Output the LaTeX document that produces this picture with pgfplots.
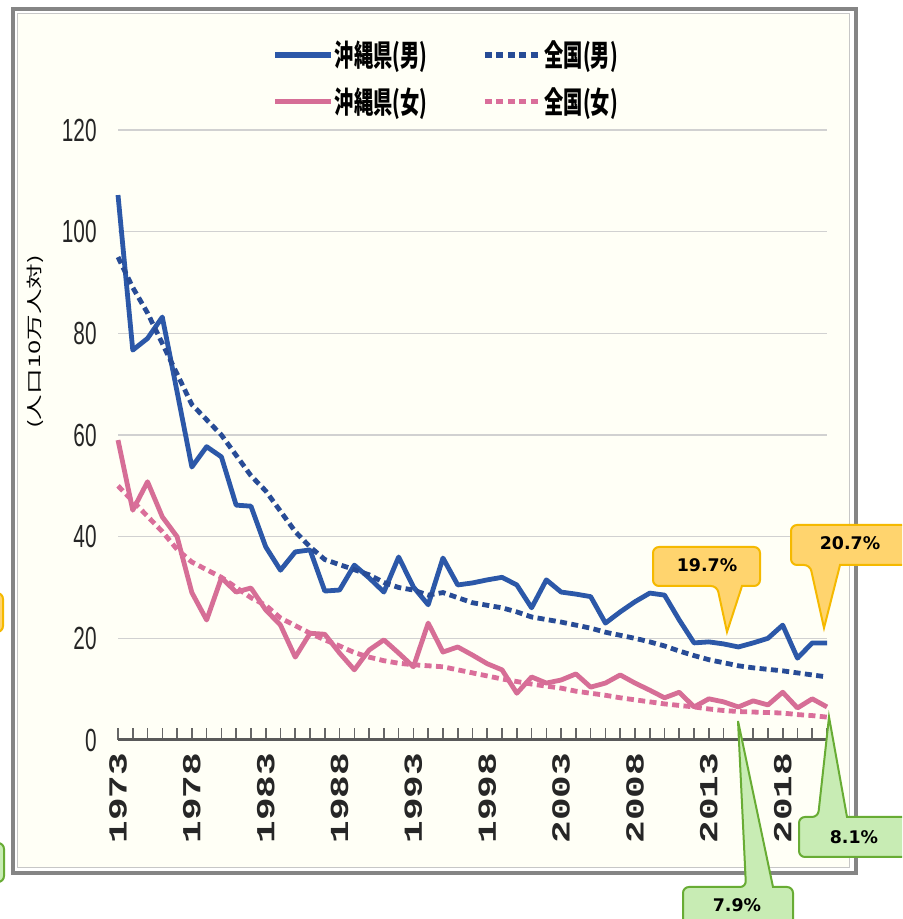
\documentclass[border=0pt]{standalone}
\usepackage{pgfplots}
\usepackage{pgfplotstable}
\pgfplotsset{compat=1.18}
\usepackage{fontspec}
\setmainfont{Liberation Sans}
\newfontfamily\ticksans[FakeStretch=0.65]{Liberation Sans}
\newfontfamily\tickmono[FakeStretch=1.45]{Liberation Mono}
\newfontfamily\cjklegend[FakeStretch=0.64]{Noto Sans CJK JP}
\newfontfamily\cjklabel[FakeStretch=1.6]{Noto Sans CJK JP}
\newfontfamily\callfont{DejaVu Sans}

\definecolor{okblue}{RGB}{44,88,168}
\definecolor{natblue}{RGB}{40,76,150}
\definecolor{okpink}{RGB}{214,110,150}
\definecolor{natpink}{RGB}{218,110,154}
\definecolor{cream}{RGB}{255,255,246}
\definecolor{callY}{RGB}{255,212,110}
\definecolor{callYb}{RGB}{245,185,0}
\definecolor{callG}{RGB}{200,236,180}
\definecolor{callGb}{RGB}{104,172,52}

\pgfplotstableread{
year okm natm okf natf
1973 107.2 95 59 50
1974 76.7 89 45.2 47
1975 79 84 50.8 44
1976 83.2 78 43.9 41
1977 68.5 72 40 37.5
1978 53.7 66 29 35
1979 57.7 63 23.6 33.5
1980 55.7 60 31.9 32
1981 46.2 56 29.1 30
1982 46 52 29.9 28
1983 38 49 25.6 26.5
1984 33.4 45 22.6 24
1985 37 41 16.3 22.5
1986 37.4 38 21 21
1987 29.3 35.5 20.8 19.7
1988 29.5 34.5 17.1 18.5
1989 34.4 33.5 13.8 17.2
1990 31.9 32.5 17.7 16.3
1991 29.1 31 19.7 15.6
1992 36 30 17.1 15.1
1993 30.1 29.5 14.4 14.8
1994 26.6 28.5 23 14.6
1995 35.8 29 17.3 14.4
1996 30.5 28 18.3 13.8
1997 30.9 27 16.7 13.2
1998 31.5 26.5 15 12.6
1999 32 26 13.8 12
2000 30.5 25.2 9.2 11.5
2001 26 24.2 12.4 11
2002 31.5 23.7 11.2 10.6
2003 29.1 23.2 11.8 10.2
2004 28.7 22.6 13 9.6
2005 28.2 22 10.4 9.2
2006 23 21.2 11.2 8.8
2007 25.2 20.6 12.8 8.3
2008 27.2 20 11.2 7.9
2009 28.9 19.3 9.8 7.5
2010 28.5 18.5 8.3 7.1
2011 23.6 17.5 9.4 6.8
2012 19.1 16.6 6.5 6.5
2013 19.3 15.8 8.1 6.1
2014 18.9 15.2 7.5 5.8
2015 18.3 14.6 6.5 5.6
2016 19.1 14.2 7.7 5.5
2017 20 13.9 6.9 5.4
2018 22.6 13.6 9.4 5.3
2019 16.1 13.2 6.3 5
2020 19.1 12.8 8.1 4.8
2021 19.1 12.4 6.5 4.5
}\datatable

\begin{document}
\begin{tikzpicture}[x=1pt,y=1pt]
\clip (0,0) rectangle (451,459.5);
\fill[white] (0,0) rectangle (451,459.5);
\fill[cream] (8.75,25.5) rectangle (424.5,452.5);
\draw[draw=black!22, line width=0.5pt] (8.75,25.5) rectangle (424.5,452.5);
\draw[draw=black!48, line width=2pt] (6.25,22.75) rectangle (428,454.75);

\begin{axis}[
  at={(59pt,89.5pt)}, anchor=south west,
  scale only axis, width=354.5pt, height=305pt,
  xmin=1973, xmax=2021, ymin=0, ymax=120,
  clip=false,
  axis lines*=left,
  y axis line style={draw=none},
  x axis line style={draw=black!65, line width=1.5pt},
  xtick={1973,1978,...,2018},
  xticklabels={1973,1978,1983,1988,1993,1998,2003,2008,2013,2018},
  minor xtick={1973,...,2021},
  tick align=inside,
  major tick length=6pt, minor tick length=6pt,
  xtick style={draw=black!60, line width=0.8pt},
  every minor tick/.append style={draw=black!60, line width=0.8pt},
  xticklabel style={rotate=90, anchor=east, font=\fontsize{13}{14}\tickmono\bfseries, text=black!85},
  xticklabel shift=3pt,
  ytick={0,20,...,120},
  ytick style={draw=none},
  yticklabel style={font=\fontsize{16}{17}\ticksans, text=black!85, inner sep=0pt},
  yticklabel shift=10.5pt,
  /pgf/number format/assume math mode=true,
  ymajorgrids,
  grid style={draw=black!18, line width=0.7pt},
  ylabel={(人口10万人対)},
  every axis y label/.style={at={(axis description cs:-0.117,0.6525)}, rotate=90, anchor=center, font=\fontsize{8}{9}\cjklabel},
  legend columns=2,
  legend style={draw=none, fill=none, at={(0.2172,1.149)}, anchor=north west, inner sep=0pt,
    row sep=8pt, font={\fontsize{15}{16}\cjklegend\bfseries},
    /tikz/every even column/.append style={column sep=27pt},
    nodes={inner sep=0.5pt}},
  legend image code/.code={\draw[#1, line width=2.8pt] (0pt,0pt) -- (28pt,0pt);},
]
\addplot[okblue, line width=2.4pt, line join=round] table[x=year, y=okm] {\datatable};
\addlegendentry{沖縄県(男)}
\addplot[natblue, line width=2.4pt, dash pattern=on 3.5pt off 2.2pt] table[x=year, y=natm] {\datatable};
\addlegendentry{全国(男)}
\addplot[okpink, line width=2.4pt, line join=round] table[x=year, y=okf] {\datatable};
\addlegendentry{沖縄県(女)}
\addplot[natpink, line width=2.4pt, dash pattern=on 3.5pt off 2.2pt] table[x=year, y=natf] {\datatable};
\addlegendentry{全国(女)}
\end{axis}

% callouts
\filldraw[fill=callY, draw=callYb, line width=1pt] (353,186) [rounded corners=3pt] -- (326.5,186) -- (326.5,166.5) -- (358.5,166.5) [sharp corners] -- (363.5,143.5) -- (371,166.5) [rounded corners=3pt] -- (380,166.5) -- (380,186) -- cycle;
\node[font=\fontsize{8.7}{10}\callfont\bfseries] at (353.5,177) {19.7\%};

\filldraw[fill=callY, draw=callYb, line width=1pt] (395.5,187) [rounded corners=3pt] -- (395.5,177) -- (405,177) [sharp corners] -- (412,145.5) -- (420,177) [rounded corners=3pt] -- (460,177) -- (460,197) -- (395.5,197) -- cycle;
\node[font=\fontsize{8.7}{10}\callfont\bfseries] at (425,188) {20.7\%};

\filldraw[fill=callG, draw=callGb, line width=1pt] (341.5,-10) [rounded corners=3pt] -- (341.5,16) -- (373,16) [sharp corners] -- (369,99) -- (386.5,16) [rounded corners=3pt] -- (396.5,16) -- (396.5,-10) -- cycle;
\node[font=\fontsize{8.7}{10}\callfont\bfseries] at (368.5,7) {7.9\%};

\filldraw[fill=callG, draw=callGb, line width=1pt] (399.5,41) [rounded corners=3pt] -- (399.5,51) -- (409,51) [sharp corners] -- (414.5,101) -- (423.5,51) [rounded corners=3pt] -- (460,51) -- (460,31) -- (399.5,31) -- cycle;
\node[font=\fontsize{8.7}{10}\callfont\bfseries] at (427,41) {8.1\%};

\filldraw[fill=callY, draw=callYb, line width=1pt, rounded corners=3pt] (-20,143.5) rectangle (1.5,163);
\filldraw[fill=callG, draw=callGb, line width=1pt, rounded corners=3pt] (-20,18.5) rectangle (2,38);
\end{tikzpicture}
\end{document}
